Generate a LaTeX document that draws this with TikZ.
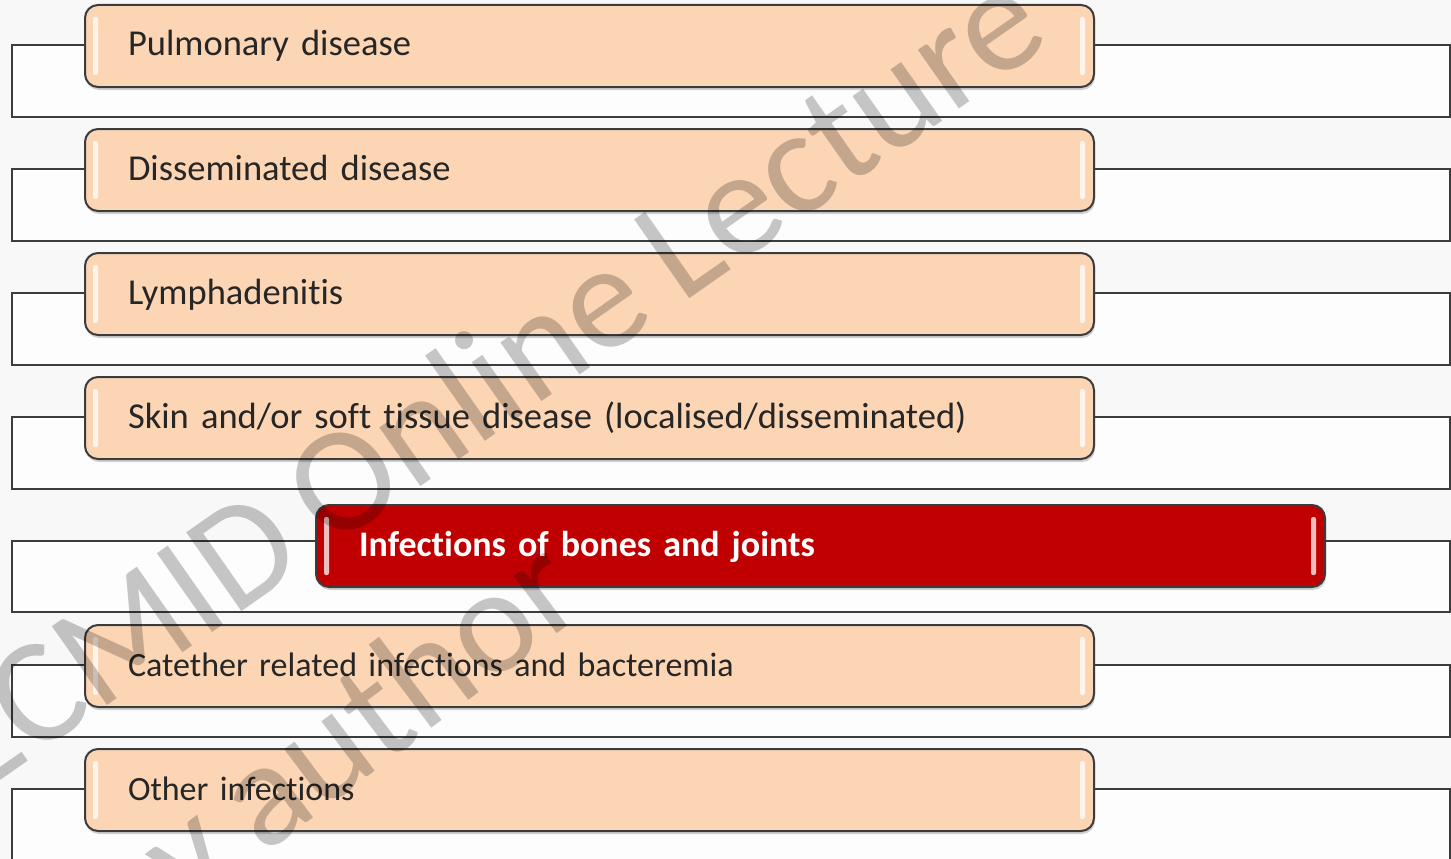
\documentclass[tikz,border=0pt]{standalone}
\usepackage{fontspec}
\setmainfont{Carlito}[Ligatures=NoCommon,WordSpace=0.8]
\usepackage{tikz}
\usetikzlibrary{shadows}
\definecolor{bgcol}{HTML}{F8F8F8}
\definecolor{framefill}{HTML}{FDFDFD}
\definecolor{linecol}{HTML}{3C3C3C}
\definecolor{peach}{HTML}{FCD5B5}
\definecolor{deepred}{HTML}{C00000}
\definecolor{textcol}{HTML}{262626}

\tikzset{
  frame/.style={draw=linecol,line width=1.8pt,fill=framefill},
  item/.style={draw=linecol,line width=2pt,rounded corners=13pt,fill=peach,
    minimum height=82pt,text width=923pt,inner xsep=43pt,align=left,
    text height=25pt,text depth=5pt,text=textcol,anchor=west,
    font=\fontsize{36.5}{44}\selectfont,
    drop shadow={opacity=0.35,shadow xshift=1pt,shadow yshift=-3pt},
    path picture={
      \fill[white,opacity=0.75,rounded corners=2pt]
        ([xshift=8pt,yshift=-12pt]path picture bounding box.north west) rectangle
        ([xshift=13pt,yshift=12pt]path picture bounding box.south west);
      \fill[white,opacity=0.75,rounded corners=2pt]
        ([xshift=-14pt,yshift=-12pt]path picture bounding box.north east) rectangle
        ([xshift=-9pt,yshift=12pt]path picture bounding box.south east);}},
  smallitem/.style={item,font=\fontsize{34}{41}\selectfont},
  hot/.style={item,fill=deepred,text=white,font=\fontsize{36}{43}\selectfont\bfseries},
  wmark/.style={inner sep=0pt,anchor=base west,text=black,text opacity=0.22,
    font=\fontsize{150}{180}\selectfont}
}

\begin{document}
\begin{tikzpicture}[x=1pt,y=-1pt]
\useasboundingbox[fill=bgcol] (0,0) rectangle (1451,859);

\draw[frame] (12,45) rectangle (1450,117);
\draw[frame] (12,169) rectangle (1450,241);
\draw[frame] (12,293) rectangle (1450,365);
\draw[frame] (12,417) rectangle (1450,489);
\draw[frame] (12,541) rectangle (1450,612);
\draw[frame] (12,665) rectangle (1450,737);
\draw[frame] (12,789) rectangle (1450,861);

\node[item] (1) at (84,46) {Pulmonary disease};
\node[item] (2) at (84,170) {Disseminated disease};
\node[item] (3) at (84,294) {Lymphadenitis};
\node[item] (4) at (84,418) {Skin and/or soft tissue disease (localised/disseminated)};
\node[hot] (5) at (315,546) {Infections of bones and joints};
\node[smallitem] (6) at (84,666) {Catether related infections and bacteremia};
\node[smallitem] (7) at (84,790) {Other infections};

\node[wmark,rotate=35] (w1) at (-27,800) {ECMID Online Lecture};
\node[wmark,rotate=37] (w2) at (125,960) {by author};

\end{tikzpicture}
\end{document}
